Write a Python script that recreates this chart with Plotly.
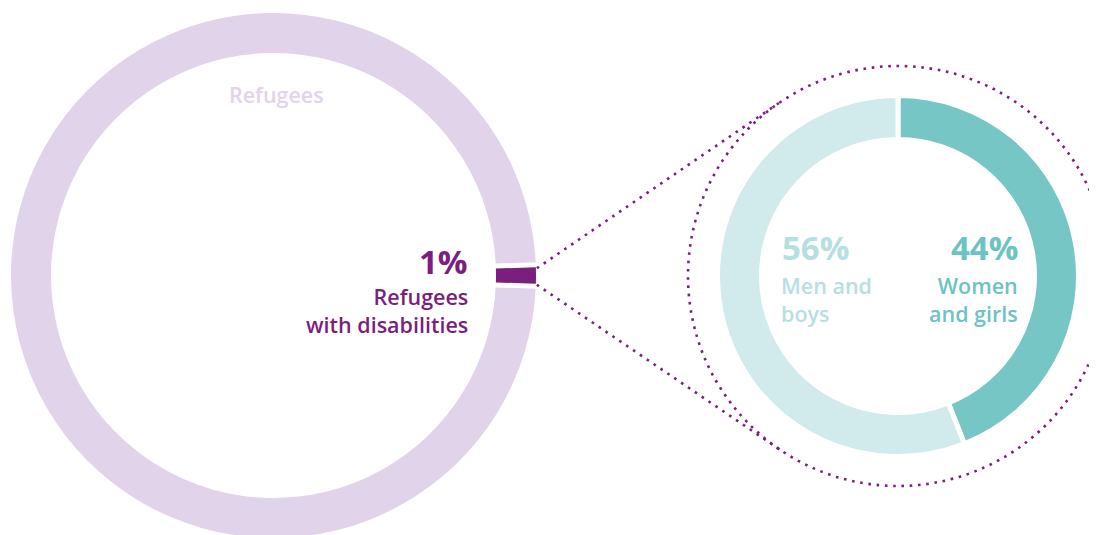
import math
import plotly.graph_objects as go

# ---- data ----
outer_labels = ["Refugees with disabilities", "Refugees"]
outer_values = [1, 99]
inner_labels = ["Women and girls", "Men and boys"]
inner_values = [44, 56]
outer_text = ["Refugees<br>with disabilities", "Refugees"]
inner_text = ["Women<br>and girls", "Men and<br>boys"]

# ---- style / layout constants ----
W, H = 1097, 535
OFF = 8  # the page body margin shifts the figure by 8px
PURPLE_DARK = "#7a1f7e"
PURPLE_LIGHT = "#e1d3e9"
TEAL_DARK = "#76c6c6"
TEAL_LIGHT = "#d1eaeb"
TEAL_TXT_LIGHT = "#b5dfe0"
TEAL_TXT_DARK = "#6cc3c3"
GAP = 5
CLEAR = "rgba(0,0,0,0)"

# big donut geometry (page pixels)
B_CX, B_CY, B_R, B_RIN = 273.5, 275.5, 262.5, 222.5
# small donut geometry (pie radius includes the half-stroke)
S_CX, S_CY, S_R = 898, 276, 180.5
S_HOLE = 136.5 / 180.5
# dotted circle
D_CX, D_CY, D_R = 898, 276, 210


def dom(cx, cy, r):
    cx, cy = cx - OFF, cy - OFF
    return dict(x=[(cx - r) / W, (cx + r) / W],
                y=[1 - (cy + r) / H, 1 - (cy - r) / H])


def px(x):
    return (x - OFF) / W


def py(y):
    return 1 - (y - OFF) / H


share = outer_values[0] / sum(outer_values)
rot = 90 - 360 * share / 2
bdom = dom(B_CX, B_CY, B_R)
common = dict(labels=outer_labels, values=outer_values, hole=B_RIN / B_R, sort=False,
              direction="clockwise", rotation=rot, textinfo="none",
              showlegend=False, domain=bdom)

fig = go.Figure()
# full light ring
fig.add_trace(go.Pie(marker=dict(colors=[PURPLE_LIGHT, PURPLE_LIGHT], line=dict(width=0)),
                     hoverinfo="skip", **common))
# white gaps around the highlighted slice
fig.add_trace(go.Pie(marker=dict(colors=["white", CLEAR],
                                 line=dict(color="white", width=[2 * GAP, 0])),
                     hoverinfo="skip", **common))
# highlighted slice
fig.add_trace(go.Pie(marker=dict(colors=[PURPLE_DARK, CLEAR], line=dict(width=0)),
                     hoverinfo="label+percent", **common))

fig.add_trace(go.Pie(
    labels=inner_labels, values=inner_values, hole=S_HOLE, sort=False,
    direction="clockwise", rotation=0,
    marker=dict(colors=[TEAL_DARK, TEAL_LIGHT], line=dict(color="white", width=GAP)),
    textinfo="none", hoverinfo="label+percent", showlegend=False,
    domain=dom(S_CX, S_CY, S_R),
))

DOT = dict(color=PURPLE_DARK, width=2.6, dash="2.6px,5.7px")
shapes = [dict(type="circle", xref="paper", yref="paper",
               x0=px(D_CX - D_R), x1=px(D_CX + D_R),
               y0=py(D_CY + D_R), y1=py(D_CY - D_R), line=DOT, layer="above")]

# tangent lines from the highlighted slice's outer corners to the dotted circle
half = math.radians(360 * share / 2)
for sgn in (-1, 1):
    sx = B_CX + B_R * math.cos(half) + 1
    sy = B_CY + 1 + sgn * B_R * math.sin(half)
    dx, dy = D_CX - sx, D_CY - sy
    d = math.hypot(dx, dy)
    ang = math.atan2(dy, dx)
    off = math.asin(D_R / d)
    L = math.sqrt(d * d - D_R * D_R)
    a = ang + sgn * off
    ex, ey = sx + L * math.cos(a), sy + L * math.sin(a)
    shapes.append(dict(type="line", xref="paper", yref="paper",
                       x0=px(sx), y0=py(sy), x1=px(ex), y1=py(ey), line=DOT))

FONT = "Open Sans"
NUM = 33
LBL = 21.5


def note(text, x, y, anchor, size, color, weight=600):
    return dict(text=text, x=px(x), y=py(y), xanchor=anchor, yanchor="middle",
                align=anchor if anchor != "center" else "center", borderpad=0,
                xref="paper", yref="paper", showarrow=False,
                font=dict(family=FONT, size=size, color=color, weight=weight))


ann = [
    note(outer_text[1], 276.5, 95, "center", LBL, PURPLE_LIGHT),
    note(f"{outer_values[0]}%", 469, 261, "right", NUM, PURPLE_DARK, "bold"),
    note(outer_text[0], 469, 310.5, "right", LBL, PURPLE_DARK),
    note(f"{inner_values[1]}%", 781, 247.5, "left", NUM, TEAL_TXT_LIGHT, "bold"),
    note(inner_text[1], 780, 299.5, "left", LBL, TEAL_TXT_LIGHT),
    note(f"{inner_values[0]}%", 1019, 247.5, "right", NUM, TEAL_TXT_DARK, "bold"),
    note(inner_text[0], 1019, 299.5, "right", LBL, TEAL_TXT_DARK),
]

fig.update_layout(width=W, height=H, margin=dict(l=0, r=0, t=0, b=0),
                  paper_bgcolor="white", plot_bgcolor="white",
                  shapes=shapes, annotations=ann, showlegend=False)
fig.write_html("out.html")
